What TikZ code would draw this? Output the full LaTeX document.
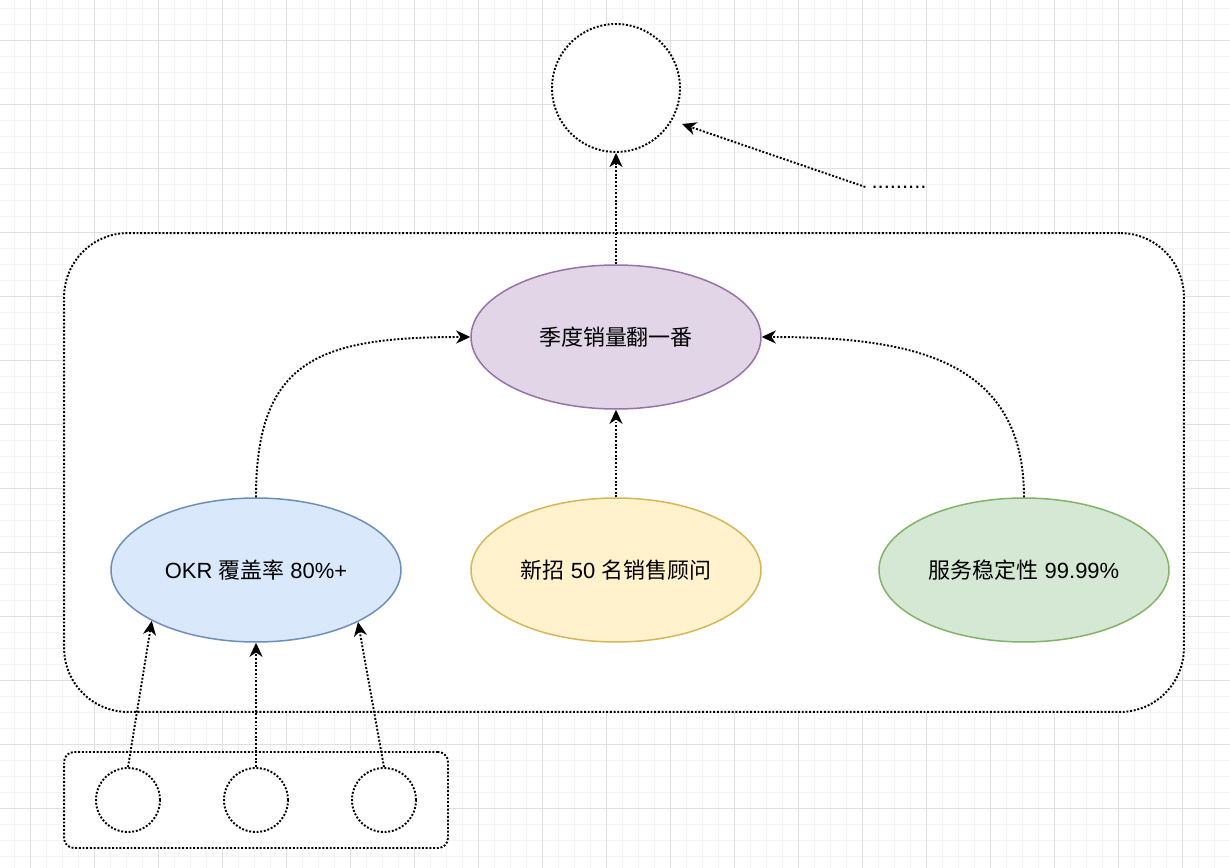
\documentclass[tikz,border=0pt]{standalone}
\usepackage{fontspec}
\setmainfont{Liberation Sans}
\newfontfamily\cjk{Noto Sans CJK SC}
\usepackage{tikz}
\usetikzlibrary{shapes.geometric,arrows.meta,positioning,calc}
\definecolor{okrblue}{HTML}{DAE8FC}
\definecolor{okrbluedk}{HTML}{6C8EBF}
\definecolor{goalpurple}{HTML}{E1D5E7}
\definecolor{goalpurpledk}{HTML}{9673A6}
\definecolor{hireyellow}{HTML}{FFF2CC}
\definecolor{hireyellowdk}{HTML}{D6B656}
\definecolor{uptimegreen}{HTML}{D5E8D4}
\definecolor{uptimegreendk}{HTML}{82B366}
\definecolor{gridminor}{HTML}{F3F3F3}
\definecolor{gridmajor}{HTML}{DFDFDF}

\begin{document}
\begin{tikzpicture}[
  x=0.02cm, y=-0.02cm,
  font=\fontsize{12.5}{15}\selectfont,
  oval/.style={ellipse, draw, line width=0.85pt, inner sep=0pt,
               minimum width=5.8cm, minimum height=2.88cm},
  dotline/.style={line width=1.1pt, dash pattern=on 1.1pt off 1pt},
  box/.style={draw, dotline, fill=white, rectangle},
  ball/.style={circle, draw, dotline, fill=white, inner sep=0pt},
  ar/.style={dotline, -{Stealth[length=8pt, width=7.4pt, inset=2.4pt]}}
]
\useasboundingbox (0,0) rectangle (1230,868);
\fill[white] (0,0) rectangle (1230,868);

% background grid
\foreach \gx in {14.5,30.5,...,1230} \draw[gridminor, line width=0.5pt] (\gx,0) -- (\gx,868);
\foreach \gy in {8,24,...,868} \draw[gridminor, line width=0.5pt] (0,\gy) -- (1230,\gy);
\foreach \gx in {30.5,94.5,...,1230} \draw[gridmajor, line width=0.5pt] (\gx,0) -- (\gx,868);
\foreach \gy in {40,104,...,868} \draw[gridmajor, line width=0.5pt] (0,\gy) -- (1230,\gy);

% containers
\node[box, rounded corners=1.28cm, minimum width=22.4cm, minimum height=9.58cm] (outer) at (624,472.5) {};
\node[box, rounded corners=0.2cm, minimum width=7.68cm, minimum height=1.92cm] (tray) at (256,800) {};

% goals
\node[ball, minimum size=2.56cm] (top) at (616,88) {};
\node (more) at (899,187) {.........};
\coordinate (moreend) at (682,124);

\node[oval, draw=goalpurpledk, fill=goalpurple] (sales) at (616,337) {\cjk 季度销量翻一番};
\node[oval, draw=okrbluedk, fill=okrblue] (okr) at (256,570) {OKR {\cjk 覆盖率} 80\%+};
\node[oval, draw=hireyellowdk, fill=hireyellow] (hire) at (616,570) {{\cjk 新招} 50 {\cjk 名销售顾问}};
\node[oval, draw=uptimegreendk, fill=uptimegreen] (uptime) at (1024,570) {{\cjk 服务稳定性} 99.99\%};

\node[ball, minimum size=1.28cm] (leafa) at (128,800) {};
\node[ball, minimum size=1.28cm] (leafb) at (256,800) {};
\node[ball, minimum size=1.28cm] (leafc) at (384,800) {};

% links
\draw[ar] (sales.north) -- (top.south);
\draw[ar] (more.west) -- (moreend);
\draw[ar] (hire.north) -- (sales.south);
\draw[ar] (okr.north) .. controls +(0,-138) and +(-151,0) .. (sales.west);
\draw[ar] (uptime.north) .. controls +(0,-138) and +(151,0) .. (sales.east);

\draw[ar] (leafa.north) -- (okr.206.8);
\draw[ar] (leafb.north) -- (okr.south);
\draw[ar] (leafc.north) -- (okr.333.2);
\end{tikzpicture}
\end{document}
